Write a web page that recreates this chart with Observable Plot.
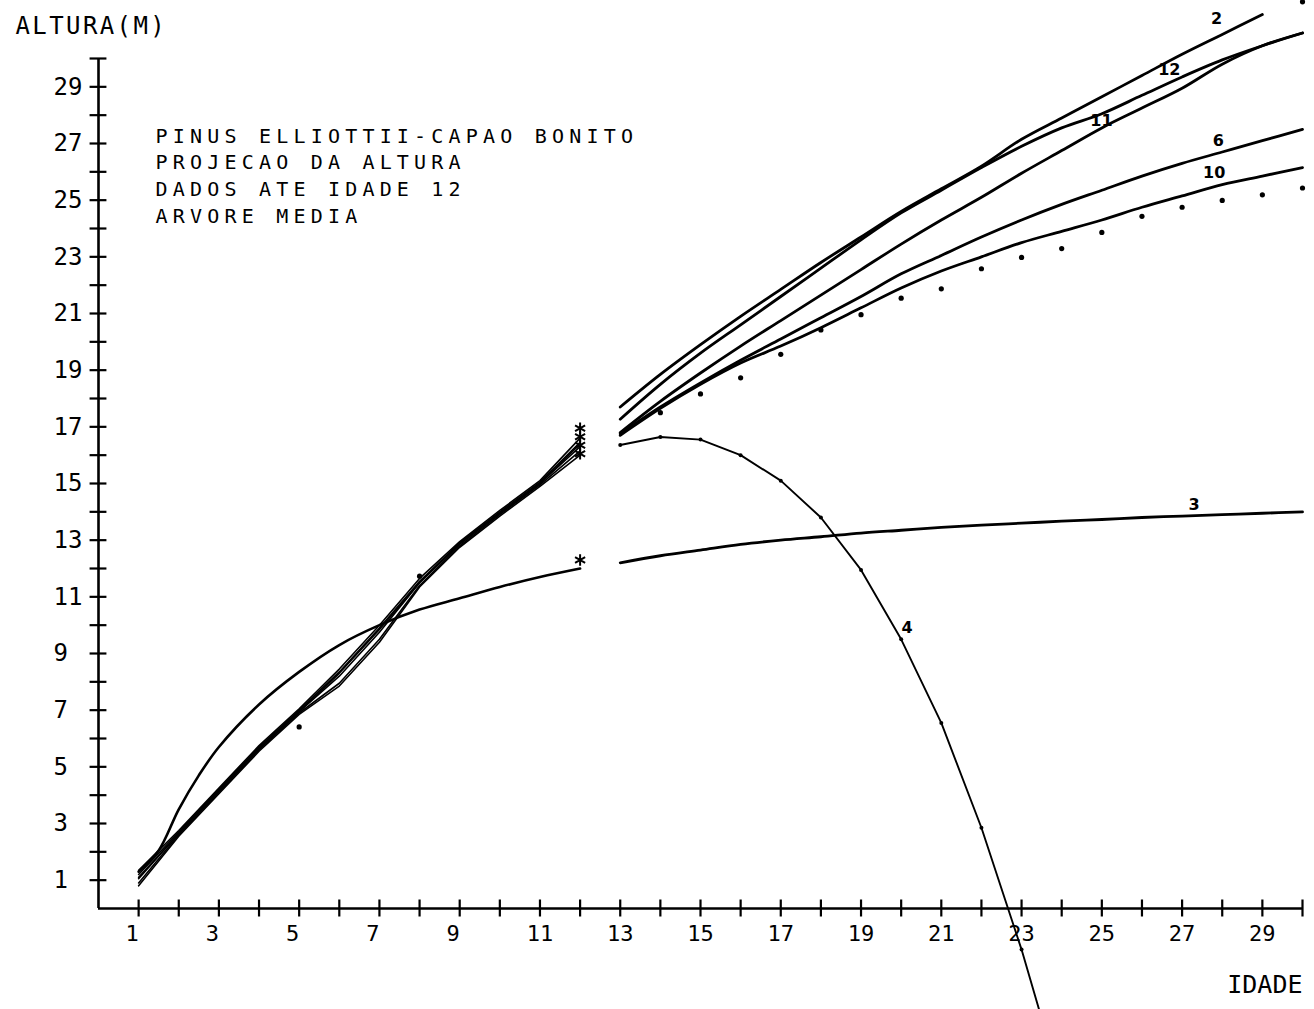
<!DOCTYPE html>
<html>
<head>
<meta charset="utf-8">
<script src="https://cdn.jsdelivr.net/npm/d3@7"></script>
<script src="https://cdn.jsdelivr.net/npm/@observablehq/plot@0.6"></script>
<style>
html, body { margin: 0; padding: 0; background: #fff; overflow: hidden; }
#chart svg { display: block; }
</style>
</head>
<body>
<div id="chart"></div>
<script>
// ---- Axis ticks and labels ----
const xTicks = d3.range(1, 31);
const yTicks = d3.range(1, 31);
const xTickLabels = [1, 3, 5, 7, 9, 11, 13, 15, 17, 19, 21, 23, 25, 27, 29];
const yTickLabels = [1, 3, 5, 7, 9, 11, 13, 15, 17, 19, 21, 23, 25, 27, 29];

// ---- Text ----
const yTitle = "ALTURA(M)";
const xTitle = "IDADE";
const infoLines = ["PINUS ELLIOTTII-CAPAO BONITO", "PROJECAO DA ALTURA", "DADOS ATE IDADE 12", "ARVORE MEDIA"];

// ---- Fitted values, ages 1..12 (data period) ----
const agesFit = [1, 2, 3, 4, 5, 6, 7, 8, 9, 10, 11, 12];
const fit2  = [1.35, 2.75, 4.25, 5.75, 7.05, 8.45, 10.0, 11.65, 12.95, 14.05, 15.1, 16.6];
const fit12 = [1.2, 2.7, 4.2, 5.7, 7.0, 8.35, 9.9, 11.55, 12.9, 14.0, 15.05, 16.45];
const fit11 = [1.05, 2.65, 4.15, 5.65, 6.95, 8.2, 9.75, 11.5, 12.85, 13.95, 15.0, 16.3];
const fit6  = [0.9, 2.6, 4.1, 5.6, 6.9, 7.95, 9.5, 11.4, 12.8, 13.9, 14.95, 16.15];
const fit10 = [0.8, 2.55, 4.05, 5.55, 6.85, 7.85, 9.4, 11.35, 12.75, 13.85, 14.9, 16.0];
const fit4  = [1.1, 2.65, 4.2, 5.65, 6.95, 8.3, 9.85, 11.5, 12.9, 13.95, 15.0, 16.4];

// model 3 in the data period
const ages3Fit = [1, 1.5, 2, 2.5, 3, 4, 5, 6, 7, 8, 9, 10, 11, 12];
const fit3 = [1.3, 2.05, 3.5, 4.7, 5.7, 7.2, 8.35, 9.3, 10.0, 10.55, 10.95, 11.35, 11.7, 12.0];

// end-of-data markers (*) at age 12
const starAges = [12, 12, 12, 12, 12];
const starValues = [16.95, 16.65, 16.35, 16.05, 12.3];

// ---- Projections, ages 13..30 ----
const agesProj = d3.range(13, 31);
const proj2  = [17.7, 18.85, 19.9, 20.9, 21.85, 22.8, 23.7, 24.6, 25.4, 26.2, 27.15, 27.9, 28.65, 29.4, 30.15, 30.85, 31.55];
const proj12 = [17.27, 18.5, 19.6, 20.6, 21.6, 22.6, 23.6, 24.55, 25.35, 26.15, 26.9, 27.55, 28.05, 28.7, 29.35, 29.95, 30.45, 30.9];
const proj11 = [16.8, 17.9, 18.9, 19.85, 20.75, 21.65, 22.55, 23.45, 24.3, 25.1, 25.95, 26.75, 27.55, 28.25, 28.95, 29.8, 30.45, 30.9];
const proj6  = [16.75, 17.7, 18.55, 19.35, 20.1, 20.85, 21.6, 22.4, 23.05, 23.7, 24.3, 24.85, 25.35, 25.85, 26.3, 26.7, 27.1, 27.5];
const proj10 = [16.7, 17.65, 18.5, 19.25, 19.85, 20.5, 21.2, 21.9, 22.5, 23.0, 23.5, 23.9, 24.3, 24.75, 25.15, 25.55, 25.85, 26.15];
const proj3  = [12.2, 12.45, 12.65, 12.85, 13.0, 13.12, 13.25, 13.35, 13.45, 13.53, 13.6, 13.67, 13.73, 13.8, 13.85, 13.9, 13.95, 14.0];
const ages4Proj = [13, 14, 15, 16, 17, 18, 19, 20, 21, 22, 23, 24];
const proj4  = [16.36, 16.64, 16.55, 16.0, 15.1, 13.8, 11.95, 9.5, 6.55, 2.85, -1.45, -6.3];

// dotted series
const dotAges   = [5, 8, 14, 15, 16, 17, 18, 19, 20, 21, 22, 23, 24, 25, 26, 27, 28, 29, 30, 30];
const dotValues = [6.41, 11.73, 17.5, 18.16, 18.73, 19.56, 20.42, 20.96, 21.54, 21.87, 22.58, 22.98, 23.29, 23.86, 24.43, 24.75, 24.99, 25.19, 25.43, 32.0];

// curve labels
const curveLabels = ["2", "12", "11", "6", "10", "3", "4"];
const curveLabelAges = [27.86, 26.68, 24.99, 27.9, 27.8, 27.3, 20.15];
const curveLabelValues = [31.4, 29.6, 27.8, 27.1, 25.95, 14.25, 9.9];

// ---- Build tables ----
const rows = (name, xs, ys) => ys.map((y, i) => ({name, x: xs[i], y}));
const fitRows = [
  ...rows("2", agesFit, fit2), ...rows("12", agesFit, fit12), ...rows("11", agesFit, fit11),
  ...rows("6", agesFit, fit6), ...rows("10", agesFit, fit10), ...rows("4", agesFit, fit4)
];
const fit3Rows = rows("3", ages3Fit, fit3);
const projRows = [
  ...rows("2", agesProj, proj2), ...rows("12", agesProj, proj12), ...rows("11", agesProj, proj11),
  ...rows("6", agesProj, proj6), ...rows("10", agesProj, proj10), ...rows("3", agesProj, proj3)
];
const proj4Rows = rows("4", ages4Proj, proj4);
const dotRows = rows("dots", dotAges, dotValues);
const starRows = rows("star", starAges, starValues);
const labelRows = curveLabels.map((t, i) => ({t, x: curveLabelAges[i], y: curveLabelValues[i]}));

const mono = "DejaVu Sans Mono";

const chart = Plot.plot({
  width: 1314,
  height: 1009,
  marginLeft: 98,
  marginRight: 12,
  marginTop: 58,
  marginBottom: 101,
  x: {domain: [0, 30], axis: null},
  y: {domain: [0, 30], axis: null},
  style: {background: "#fff", color: "black", fontFamily: mono},
  marks: [
    // axes
    Plot.ruleY([0], {x1: 0, x2: 30, stroke: "black", strokeWidth: 2.6}),
    Plot.ruleX([0], {y1: 0, y2: 30, stroke: "black", strokeWidth: 2.6}),
    Plot.ruleX(xTicks, {x: d => d, y1: -0.3, y2: 0.3, stroke: "black", strokeWidth: 2.2}),
    Plot.ruleY(yTicks, {y: d => d, x1: -0.21, x2: 0.21, stroke: "black", strokeWidth: 2.2}),
    Plot.text(xTickLabels, {x: d => d, y: 0, text: d => String(d).padEnd(2, " "), dy: 25, fontSize: 22, fontFamily: mono, fill: "black"}),
    Plot.text(yTickLabels, {x: 0, y: d => d, text: d => String(d), dx: -45, textAnchor: "start", fontSize: 24, fontFamily: mono, fill: "black"}),
    // titles
    Plot.text([yTitle], {frameAnchor: "top-left", text: d => d, dx: -83, dy: -25, textAnchor: "start", lineAnchor: "bottom", fontSize: 24, fontFamily: mono, fill: "black", ariaDescription: "ytitle"}),
    Plot.text([xTitle], {frameAnchor: "bottom-right", text: d => d, dx: 0, dy: 84, textAnchor: "end", lineAnchor: "bottom", fontSize: 25, fontFamily: mono, fill: "black"}),
    Plot.text([infoLines.join("\n")], {frameAnchor: "top-left", text: d => d, dx: 57, dy: 164, textAnchor: "start", lineAnchor: "bottom", lineHeight: 1.33, fontSize: 20, fontFamily: mono, fill: "black", ariaDescription: "info"}),
    // data period
    Plot.line(fitRows, {x: "x", y: "y", z: "name", stroke: "black", strokeWidth: 1.6}),
    Plot.line(fit3Rows, {x: "x", y: "y", stroke: "black", strokeWidth: 2.6, curve: "catmull-rom"}),
    Plot.dot(starRows, {x: "x", y: "y", symbol: "asterisk", r: 5.5, stroke: "black", strokeWidth: 2}),
    // projections
    Plot.line(projRows, {x: "x", y: "y", z: "name", stroke: "black", strokeWidth: 2.8, curve: "catmull-rom"}),
    Plot.line(proj4Rows, {x: "x", y: "y", stroke: "black", strokeWidth: 1.9}),
    Plot.dot(proj4Rows, {x: "x", y: "y", r: 2, fill: "black"}),
    Plot.dot(dotRows, {x: "x", y: "y", r: 2.6, fill: "black"}),
    // curve labels
    Plot.text(labelRows, {x: "x", y: "y", text: "t", fontSize: 16, fontWeight: "bold", fontFamily: "DejaVu Sans", fill: "black"})
  ]
});
d3.select(chart).selectAll('g[aria-description="info"] text').style("letter-spacing", "5.2px");
d3.select(chart).selectAll('g[aria-description="ytitle"] text').style("letter-spacing", "2.4px");
document.getElementById("chart").appendChild(chart);
</script>
</body>
</html>
